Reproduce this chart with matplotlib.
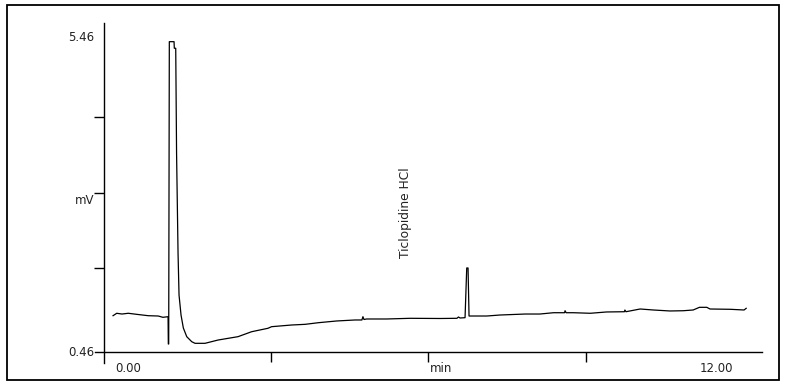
import matplotlib
matplotlib.use('Agg')
import matplotlib.pyplot as plt
from matplotlib.patches import Rectangle

# Chromatogram trace (time in min, signal in mV)
time_min = [0.00, 0.07, 0.17, 0.29, 0.45, 0.67, 0.86, 0.95, 1.048, 1.053,
            1.060, 1.072, 1.162, 1.167, 1.194, 1.210, 1.238, 1.257, 1.295, 1.339,
            1.404, 1.499, 1.562, 1.752, 2.00, 2.38, 2.64, 2.95, 3.02, 3.40,
            3.66, 3.91, 4.26, 4.61, 4.74, 4.76, 4.78, 4.83, 5.21, 5.66,
            6.23, 6.55, 6.58, 6.61, 6.705, 6.737, 6.762, 6.781, 6.86, 7.12,
            7.37, 7.85, 8.13, 8.39, 8.60, 8.61, 8.63, 8.77, 9.09, 9.40,
            9.74, 9.75, 9.77, 10.04, 10.29, 10.61, 10.86, 11.05, 11.17, 11.31,
            11.37, 11.76, 12.02, 12.06]
signal_mv = [1.045, 1.084, 1.072, 1.084, 1.067, 1.045, 1.040, 1.019, 1.029, 0.589,
             0.589, 5.46, 5.46, 5.354, 5.354, 3.667, 2.055, 1.378, 1.056, 0.847,
             0.707, 0.626, 0.600, 0.600, 0.653, 0.707, 0.787, 0.842, 0.868, 0.895,
             0.906, 0.932, 0.960, 0.976, 0.976, 1.029, 0.984, 0.992, 0.992, 1.003,
             1.000, 1.003, 1.024, 1.008, 1.013, 1.814, 1.814, 1.040, 1.040, 1.040,
             1.056, 1.072, 1.072, 1.093, 1.093, 1.125, 1.093, 1.093, 1.084, 1.105,
             1.109, 1.137, 1.109, 1.153, 1.137, 1.121, 1.125, 1.137, 1.180, 1.180,
             1.153, 1.148, 1.137, 1.164]

y_min_label, y_max_label = 0.46, 5.46
y_ticks = [1.81, 3.02, 4.25]
x_ticks = [3, 6, 9]
peak_name = 'Ticlopidine HCl'
peak_time = 6.75

plt.rcParams['font.family'] = ['DejaVu Sans']

fig = plt.figure(figsize=(7.9, 3.87), dpi=100)
ax = fig.add_axes([0.1203, 0.0620, 0.8443, 0.8786])
ax.set_xlim(-0.343, 12.362)
ax.set_ylim(0.2828, 5.761)

ax.plot(time_min, signal_mv, color='black', lw=0.9)

# axis lines like the instrument printout
for side in ['top', 'right']:
    ax.spines[side].set_visible(False)
ax.spines['left'].set_position(('data', -0.171))
ax.spines['bottom'].set_position(('data', y_min_label))
ax.spines['left'].set_linewidth(1.0)
ax.spines['bottom'].set_linewidth(1.0)

ax.set_xticks(x_ticks)
ax.set_yticks(y_ticks)
ax.tick_params(axis='both', direction='out', length=7.2, width=1.0,
               labelbottom=False, labelleft=False)

fs = 8.5
ax.text(-0.36, 5.52, f'{y_max_label:.2f}', ha='right', va='center', fontsize=fs, color='#222222')
ax.text(-0.36, y_min_label, f'{y_min_label:.2f}', ha='right', va='center', fontsize=fs, color='#222222')
ax.text(-0.36, 2.90, 'mV', ha='right', va='center', fontsize=fs, color='#222222')
ax.text(0.295, 0.20, '0.00', ha='center', va='center', fontsize=fs, color='#222222')
ax.text(6.25, 0.20, 'min', ha='center', va='center', fontsize=fs, color='#222222')
ax.text(11.50, 0.20, '12.00', ha='center', va='center', fontsize=fs, color='#222222')

ax.text(5.58, 1.975, peak_name, rotation=90, ha='center', va='bottom',
        fontsize=8.8, color='#222222')

# outer frame
fig.patches.append(Rectangle((6.5 / 790, 7 / 387), 772.5 / 790, 375 / 387,
                             transform=fig.transFigure, fill=False,
                             edgecolor='black', lw=1.3))

plt.savefig('out.png', dpi=100)
